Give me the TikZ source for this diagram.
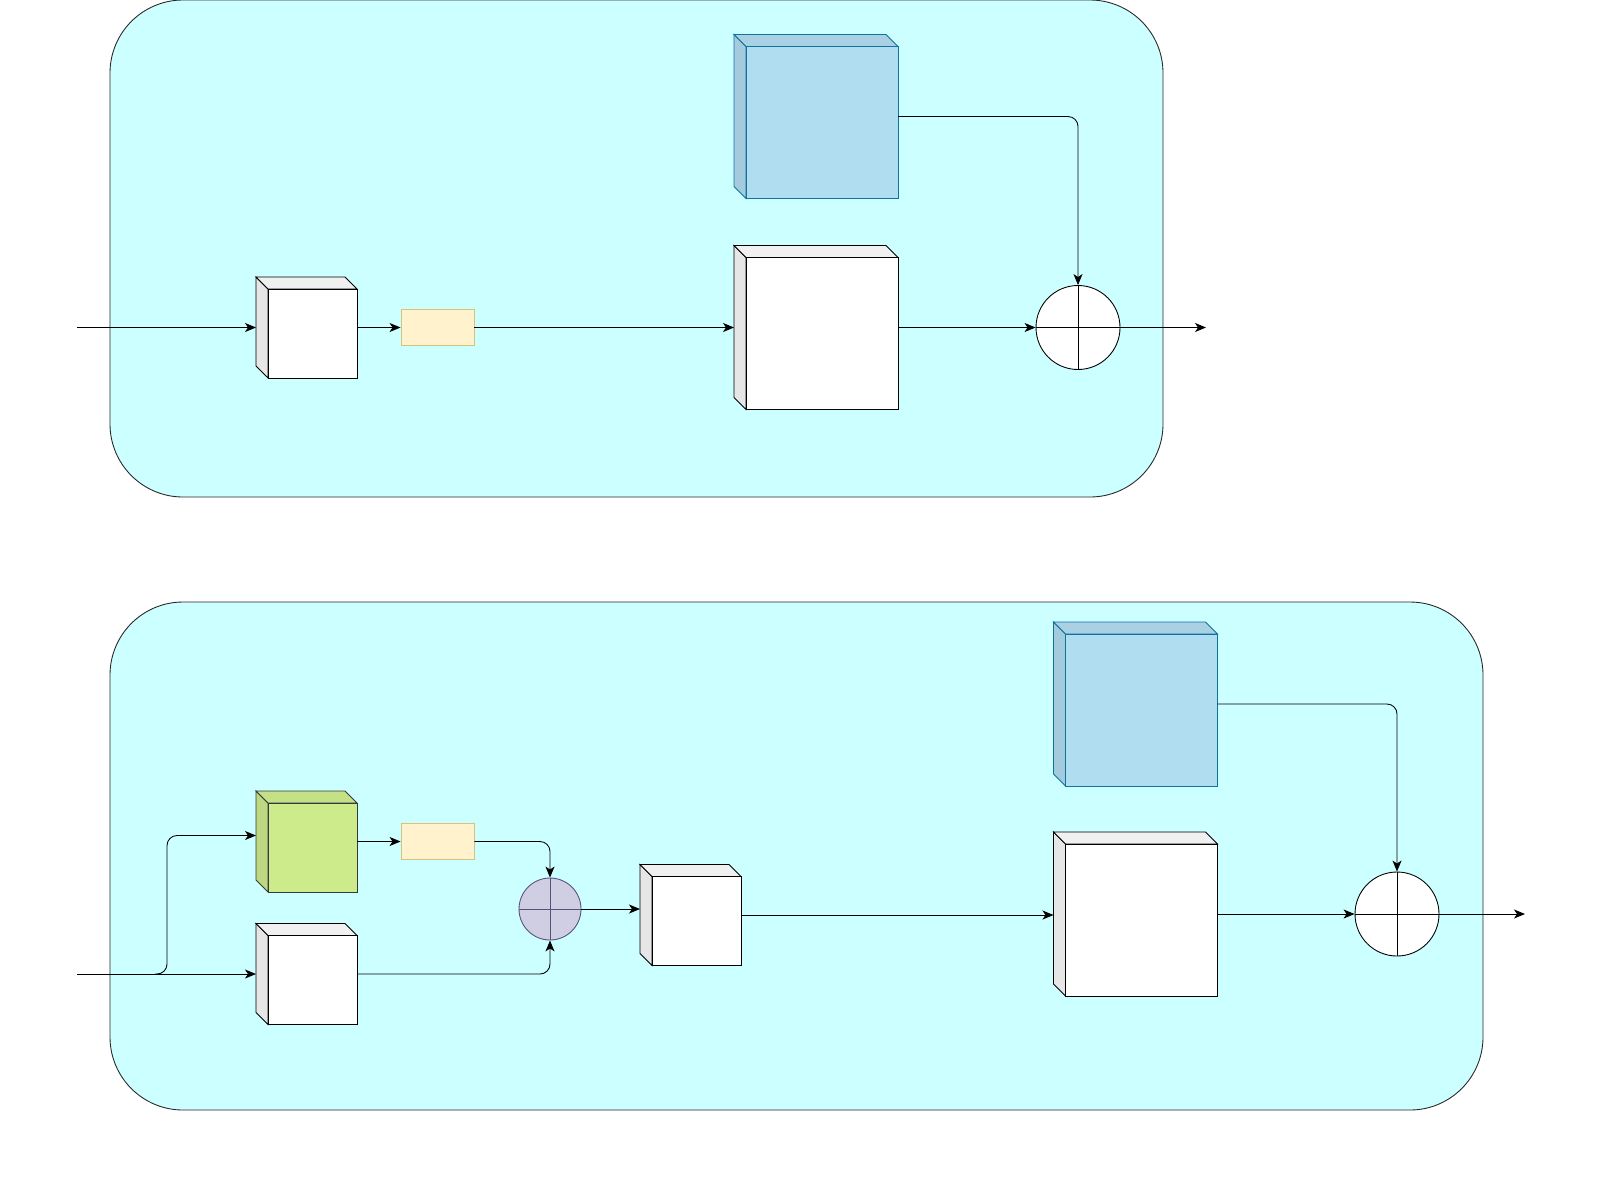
\documentclass[tikz,border=0pt]{standalone}
\usetikzlibrary{arrows.meta,calc}
\definecolor{panelbg}{HTML}{CCFFFF}
\definecolor{whiteF}{HTML}{FFFFFF}
\definecolor{whiteS}{HTML}{E6E6E6}
\definecolor{whiteT}{HTML}{F0F0F0}
\definecolor{whiteD}{HTML}{000000}
\definecolor{blueF}{HTML}{B1DDF0}
\definecolor{blueS}{HTML}{A3CBDD}
\definecolor{blueT}{HTML}{A9D0E3}
\definecolor{blueD}{HTML}{10739E}
\definecolor{greenF}{HTML}{CDEB8B}
\definecolor{greenS}{HTML}{BDD881}
\definecolor{greenT}{HTML}{C5E186}
\definecolor{greenD}{HTML}{36393D}
\definecolor{tagF}{HTML}{FFF2CC}
\definecolor{tagD}{HTML}{D6C27A}
\definecolor{mixF}{HTML}{D0CEE2}
\definecolor{mixD}{HTML}{56517E}

\newcommand{\blockcube}[4]{%
\node[cubebox=#3] (#1) at (#2) {};
\draw[draw=#4D, fill=#4S] (#1.north west) -- ([shift={(12,12)}]#1.north west) -- ([shift={(12,0)}]#1.south west) -- ([shift={(0,-12)}]#1.south west) -- cycle;
\draw[draw=#4D, fill=#4T] (#1.north west) -- ([shift={(-12,0)}]#1.north east) -- ([shift={(0,12)}]#1.north east) -- ([shift={(12,12)}]#1.north west) -- cycle;
\draw[draw=#4D, fill=#4F] ([shift={(12,12)}]#1.north west) rectangle (#1.south east);
}

\begin{document}
\begin{tikzpicture}[x=0.2mm,y=-0.2mm,line width=0.5pt,
arr/.style={-{Stealth[length=2.2mm,width=1.8mm,inset=0.6mm]}},
panel/.style={draw=black!85, fill=panelbg, rounded corners=14.6mm},
cubebox/.style={minimum size=#1, inner sep=0pt, outer sep=0pt},
tag/.style={draw=tagD, fill=tagF, minimum width=14.6mm, minimum height=7.2mm, inner sep=0pt},
sum/.style={draw, fill=white, circle, minimum size=16.8mm, inner sep=0pt},
mix/.style={draw=mixD, fill=mixF, circle, minimum size=12.4mm, inner sep=0pt}]
\useasboundingbox (0,0) rectangle (1600,1189);

% upper block
\draw[panel] (110,0) rectangle (1163,497);
\blockcube{conv1}{306.5,327.5}{20.2mm}{white}
\node[tag] (tag1) at (437.5,327.5) {};
\blockcube{feat1}{816,327.5}{32.8mm}{white}
\blockcube{ref1}{816,116.5}{32.8mm}{blue}
\node[sum] (sum1) at (1078,327.5) {};
\draw (sum1.north) -- (sum1.south) (sum1.west) -- (sum1.east);
\coordinate (in1) at (77,327.5);
\coordinate (out1) at (1206,327.5);
\draw[arr] (in1) -- (conv1.west);
\draw[arr] (conv1) -- (tag1);
\draw[arr] (tag1) -- (feat1);
\draw[arr] (feat1) -- (sum1);
\draw[arr] (sum1.east) -- (out1);
\draw[arr, rounded corners=2mm] (ref1.east) -| (sum1.north);

% lower block
\draw[panel] (110,602) rectangle (1483,1110);
\blockcube{att2}{306.5,841.5}{20.2mm}{green}
\blockcube{conv2}{306.5,974}{20.2mm}{white}
\node[tag] (tag2) at (437.5,841.5) {};
\node[mix] (mix2) at (550,909) {};
\draw[draw=mixD] (mix2.north) -- (mix2.south) (mix2.west) -- (mix2.east);
\blockcube{conv3}{690.5,915}{20.2mm}{white}
\blockcube{feat2}{1135.5,914}{32.8mm}{white}
\blockcube{ref2}{1135.5,704}{32.8mm}{blue}
\node[sum] (sum2) at (1397,914) {};
\draw (sum2.north) -- (sum2.south) (sum2.west) -- (sum2.east);
\coordinate (in2) at (77,974);
\coordinate (fork) at (155,974);
\coordinate (split) at (167,974);
\coordinate (out2) at (1525,914);
\draw[arr] (in2) -- (conv2.west);
\draw[arr, rounded corners=2mm] (fork) -- (split) |- ([yshift=1.2mm]att2.west);
\draw[arr] (att2) -- (tag2);
\draw[arr, rounded corners=2mm] (tag2.east) -| (mix2.north);
\draw[arr, rounded corners=2mm] (conv2.east) -| (mix2.south);
\draw[arr] (mix2.east) -- (mix2.east -| conv3.west);
\draw[arr] (conv3.east) -- (conv3.east -| feat2.west);
\draw[arr] (feat2) -- (sum2);
\draw[arr] (sum2.east) -- (out2);
\draw[arr, rounded corners=2mm] (ref2.east) -| (sum2.north);
\end{tikzpicture}
\end{document}
